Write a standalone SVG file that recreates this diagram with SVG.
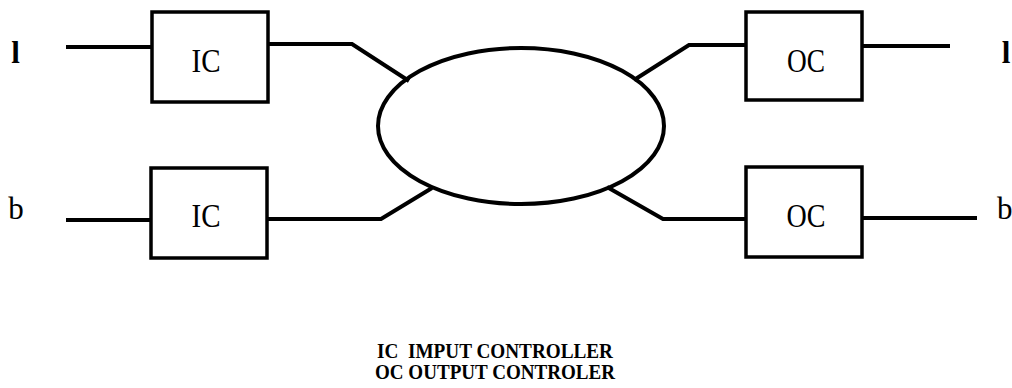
<svg xmlns="http://www.w3.org/2000/svg" width="1012" height="388" viewBox="0 0 1012 388">
<style>
.box{fill:#fff;stroke:#000;stroke-width:3.5}
.ln{fill:none;stroke:#000;stroke-width:4;stroke-linejoin:miter}
.t{font-family:"Liberation Serif",serif;fill:#000}
.bx{font-size:34px;text-anchor:middle}
</style>
<rect width="1012" height="388" fill="#fff"/>
<g id="connectors">
<path class="ln" d="M66 47 H152"/>
<path class="ln" d="M268 44 H352 L409 81"/>
<path class="ln" d="M66 220 H151"/>
<path class="ln" d="M267 219 H381 L432 188"/>
<path class="ln" d="M634 80 L689 45 H746"/>
<path class="ln" d="M862 46 H950"/>
<path class="ln" d="M607 187 L663 219 H746"/>
<path class="ln" d="M862 218 H977"/>
</g>
<g id="network"><ellipse cx="521" cy="126" rx="143" ry="78" fill="none" stroke="#000" stroke-width="4"/></g>
<g id="ic1"><rect class="box" x="152" y="12" width="116" height="90"/><text class="t bx" x="206" y="72" textLength="29" lengthAdjust="spacingAndGlyphs">IC</text></g>
<g id="ic2"><rect class="box" x="151" y="168" width="116" height="90"/><text class="t bx" x="206" y="227" textLength="29" lengthAdjust="spacingAndGlyphs">IC</text></g>
<g id="oc1"><rect class="box" x="746" y="12" width="116" height="88"/><text class="t bx" x="806" y="72" textLength="38" lengthAdjust="spacingAndGlyphs">OC</text></g>
<g id="oc2"><rect class="box" x="746" y="167" width="116" height="90"/><text class="t bx" x="806" y="227" textLength="39" lengthAdjust="spacingAndGlyphs">OC</text></g>
<g id="labels">
<text class="t" x="15.5" y="63" font-size="31" text-anchor="middle" font-weight="bold">l</text>
<text class="t" x="16" y="219" font-size="31" text-anchor="middle">b</text>
<text class="t" x="1006" y="63" font-size="31" text-anchor="middle" font-weight="bold">l</text>
<text class="t" x="997" y="219" font-size="31">b</text>
</g>
<g id="legend">
<text class="t" x="377" y="358" font-size="20" font-weight="bold" textLength="236" lengthAdjust="spacingAndGlyphs" xml:space="preserve">IC  IMPUT CONTROLLER</text>
<text class="t" x="375" y="379" font-size="20" font-weight="bold" textLength="240" lengthAdjust="spacingAndGlyphs">OC OUTPUT CONTROLER</text>
</g>
</svg>
